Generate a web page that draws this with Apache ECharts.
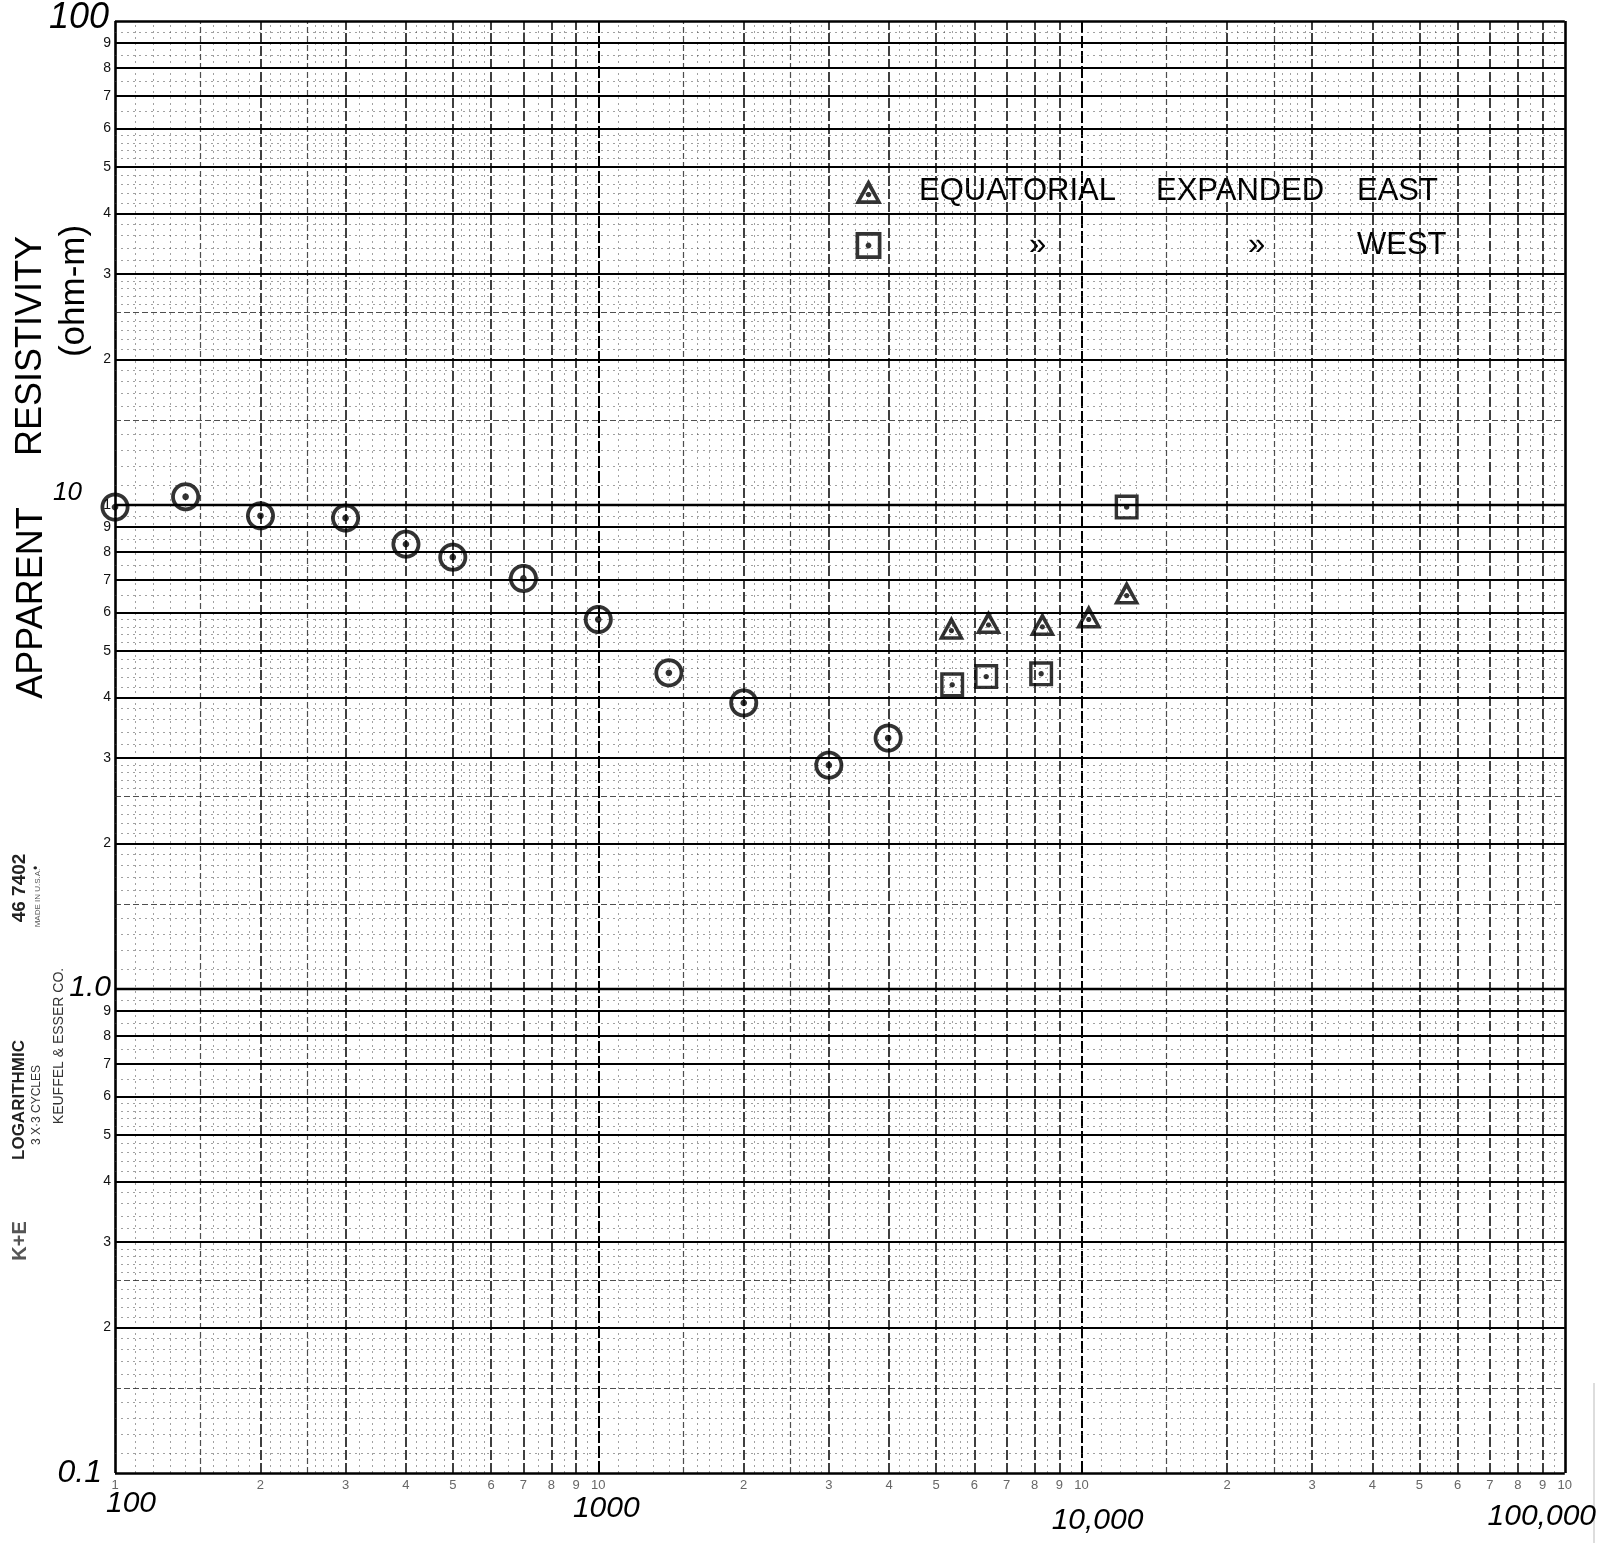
<!DOCTYPE html>
<html>
<head>
<meta charset="utf-8">
<script src="https://cdn.jsdelivr.net/npm/echarts/dist/echarts.min.js"></script>
<style>
html,body{margin:0;padding:0;background:#fff;}
#c{width:1599px;height:1543px;}
</style>
</head>
<body>
<div id="c"></div>
<script>
// ---------------- DATA ----------------
const wennerSpacing = [100, 140, 200, 300, 400, 500, 700, 1000, 1400, 2000, 3000, 3980];
const wennerRho     = [9.9, 10.4, 9.5, 9.4, 8.3, 7.8, 7.05, 5.8, 4.5, 3.9, 2.9, 3.3];
const eastSpacing   = [5380, 6420, 8300, 10350, 12400];
const eastRho       = [5.5, 5.65, 5.6, 5.8, 6.5];
const westSpacing   = [5400, 6350, 8250, 12400];
const westRho       = [4.25, 4.42, 4.48, 9.9];

const xDecadeLabels = ['100', '1000', '10,000', '100,000'];
const yDecadeLabels = ['0.1', '1.0', '10', '100'];
const digitLabels   = ['2', '3', '4', '5', '6', '7', '8', '9'];
const xDecadeDigits = ['1', '10', '10', '10'];
const yDecadeDigits = ['', '', '1', ''];
const legendEast    = ['EQUATORIAL', 'EXPANDED', 'EAST'];
const legendWest    = ['\u00bb', '\u00bb', 'WEST'];

// graph-paper rulings (mantissas inside one decade)
const minorMant = [1.1,1.2,1.3,1.4,1.6,1.7,1.8,1.9,2.1,2.2,2.3,2.4,2.6,2.7,2.8,2.9,
                   3.2,3.4,3.6,3.8,4.2,4.4,4.6,4.8,5.2,5.4,5.6,5.8,6.5,7.5,8.5,9.5];
const medMant = [1.5, 2.5];

// ---------------- STYLES ----------------
const HAND = '"Liberation Sans", "DejaVu Sans", sans-serif';
const minorStyle = {color: '#444', width: 1, type: [2, 4], opacity: 0.5};
const medStyle   = {color: '#222', width: 1.2, type: [6, 3], opacity: 0.8};
const majorH     = {color: '#000', width: 2, type: 'solid'};
const majorV     = {color: '#111', width: 1.6, type: [10, 3]};
const decadeH    = {color: '#000', width: 2.4, type: 'solid'};
const decadeV    = {color: '#000', width: 2, type: [12, 3]};
const borderStyle= {color: '#000', width: 2.6, type: 'solid'};

function clean(v) { return parseFloat(v.toPrecision(8)); }

function paperLines(key, exps, decadeDigits, vertical) {
  const out = [];
  const lab = (txt) => ({
    show: !!txt, position: 'start', formatter: txt || '',
    distance: vertical ? 6 : 4, fontSize: vertical ? 13 : 14,
    fontFamily: '"Liberation Sans", Arial, sans-serif',
    color: vertical ? '#666' : '#111'
  });
  exps.forEach(e => {
    const b = Math.pow(10, e);
    minorMant.forEach(m => out.push({[key]: clean(m * b), lineStyle: minorStyle, label: {show: false}}));
    medMant.forEach(m => out.push({[key]: clean(m * b), lineStyle: medStyle, label: {show: false}}));
    digitLabels.forEach((t, i) => out.push({[key]: clean((i + 2) * b), lineStyle: vertical ? majorV : majorH, label: lab(t)}));
  });
  const decs = exps.concat([exps[exps.length - 1] + 1]);
  decs.forEach((e, i) => {
    const border = (i === 0 || i === decs.length - 1);
    out.push({[key]: clean(Math.pow(10, e)),
              lineStyle: border ? borderStyle : (vertical ? decadeV : decadeH),
              label: lab(decadeDigits[i])});
  });
  return out;
}

// ---------------- SYMBOLS (ring + centre dot) ----------------
function polyAt(cx, cy, r, cw, n) {
  n = n || 48;
  let s = '';
  for (let i = 0; i < n; i++) {
    const a = (cw ? 1 : -1) * 2 * Math.PI * i / n;
    const x = (cx + r * Math.sin(a)).toFixed(2), y = (cy - r * Math.cos(a)).toFixed(2);
    s += (i ? 'L' : 'M') + x + ',' + y + ' ';
  }
  return s + 'Z ';
}
const circleSym = 'path://' + polyAt(0, 0, 14.5, true) + polyAt(0, 0, 10.7, false) + polyAt(0, 0, 3.3, true, 20);
const triSym = 'path://M0,-13.5 L13,10.5 L-13,10.5 Z M0,-5.6 L-7.2,7 L7.2,7 Z ' + polyAt(0, 1.5, 2.6, true, 16);
const rectSym = 'path://M-12,-12.5 L12,-12.5 L12,12.5 L-12,12.5 Z M-8.6,-9.1 L-8.6,9.1 L8.6,9.1 L8.6,-9.1 Z ' + polyAt(0, 0, 2.7, true, 16);

const toPts = (xs, ys) => xs.map((x, i) => [x, ys[i]]);

// ---------------- CHART ----------------
const chart = echarts.init(document.getElementById('c'), null, {renderer: 'canvas'});

const xRich = {
  x0: {fontSize: 30, fontFamily: HAND, fontStyle: 'italic', color: '#000', padding: [0, 0, 0, 32]},
  x1: {fontSize: 30, fontFamily: HAND, fontStyle: 'italic', color: '#000', padding: [5, 0, 0, 16]},
  x2: {fontSize: 30, fontFamily: HAND, fontStyle: 'italic', color: '#000', padding: [17, 0, 0, 32]},
  x3: {fontSize: 30, fontFamily: HAND, fontStyle: 'italic', color: '#000', padding: [13, 46, 0, 0]}
};
const yRich = {
  y0: {fontSize: 32, fontFamily: HAND, fontStyle: 'italic', color: '#000', padding: [0, 9, 0, 0]},
  y1: {fontSize: 30, fontFamily: HAND, fontStyle: 'italic', color: '#000', padding: [0, 0, 2, 0]},
  y2: {fontSize: 26, fontFamily: HAND, fontStyle: 'italic', color: '#000', padding: [0, 29, 24, 0]},
  y3: {fontSize: 36, fontFamily: HAND, fontStyle: 'italic', color: '#000', padding: [0, 2, 6, 0]}
};

const legRich = {
  s:  {width: 32, fontSize: 31, fontFamily: HAND},
  a:  {width: 237, fontSize: 31, fontFamily: HAND, color: '#000'},
  b:  {width: 201, fontSize: 31, fontFamily: HAND, color: '#000'},
  c:  {fontSize: 31, fontFamily: HAND, color: '#000'},
  da: {width: 237, align: 'center', fontSize: 31, fontFamily: HAND, color: '#000'},
  db: {width: 201, align: 'center', fontSize: 31, fontFamily: HAND, color: '#000'}
};

const option = {
  animation: false,
  backgroundColor: '#ffffff',
  grid: {left: 115, right: 23, top: 21, bottom: 70, containLabel: false},
  xAxis: {
    type: 'log', logBase: 10, min: 100, max: 100000,
    axisLine: {show: false}, axisTick: {show: false}, splitLine: {show: false},
    axisLabel: {
      margin: 16,
      formatter: v => { const i = Math.round(Math.log10(v)) - 2; return '{x' + i + '|' + xDecadeLabels[i] + '}'; },
      rich: xRich
    }
  },
  yAxis: {
    type: 'log', logBase: 10, min: 0.1, max: 100,
    axisLine: {show: false}, axisTick: {show: false}, splitLine: {show: false},
    axisLabel: {
      margin: 4,
      formatter: v => { const i = Math.round(Math.log10(v)) + 1; return '{y' + i + '|' + yDecadeLabels[i] + '}'; },
      rich: yRich
    }
  },
  legend: {
    left: 855, top: 176, orient: 'vertical', padding: 0,
    itemWidth: 27, itemHeight: 27, itemGap: 23,
    selectedMode: false,
    data: ['east', 'west'],
    formatter: name => name === 'east'
      ? '{s| }{a|' + legendEast[0] + '}{b|' + legendEast[1] + '}{c|' + legendEast[2] + '}'
      : '{s| }{da|' + legendWest[0] + '}{db|' + legendWest[1] + '}{c|' + legendWest[2] + '}',
    textStyle: {fontSize: 31, fontFamily: HAND, color: '#000', lineHeight: 30, rich: legRich}
  },
  series: [
    {
      name: 'paper', type: 'scatter', data: [], z: 1, silent: true,
      markLine: {
        silent: true, symbol: ['none', 'none'], animation: false,
        label: {show: false},
        emphasis: {disabled: true},
        data: paperLines('xAxis', [2, 3, 4], xDecadeDigits, true)
              .concat(paperLines('yAxis', [-1, 0, 1], yDecadeDigits, false))
      }
    },
    {
      name: 'wenner', type: 'scatter', z: 5,
      data: toPts(wennerSpacing, wennerRho),
      symbol: circleSym, symbolSize: [29, 29],
      itemStyle: {color: '#000'}
    },
    {
      name: 'east', type: 'scatter', z: 5,
      data: toPts(eastSpacing, eastRho),
      symbol: triSym, symbolSize: [26, 24], symbolOffset: [0, -3],
      itemStyle: {color: '#000'}
    },
    {
      name: 'west', type: 'scatter', z: 5,
      data: toPts(westSpacing, westRho),
      symbol: rectSym, symbolSize: [24, 25],
      itemStyle: {color: '#000'}
    }
  ],
  graphic: [
    {type: 'text', x: 32, y: 603, rotation: Math.PI / 2,
     style: {text: 'APPARENT', font: '36px ' + HAND, fill: '#000', align: 'center', verticalAlign: 'middle', textAlign: 'center', textVerticalAlign: 'middle'}},
    {type: 'text', x: 31, y: 346, rotation: Math.PI / 2,
     style: {text: 'RESISTIVITY', font: '36px ' + HAND, fill: '#000', align: 'center', verticalAlign: 'middle', textAlign: 'center', textVerticalAlign: 'middle'}},
    {type: 'text', x: 74, y: 291, rotation: Math.PI / 2,
     style: {text: '(ohm-m)', font: '35px ' + HAND, fill: '#000', align: 'center', verticalAlign: 'middle', textAlign: 'center', textVerticalAlign: 'middle'}},
    {type: 'text', x: 20, y: 888, rotation: Math.PI / 2,
     style: {text: '46 7402', font: 'bold 19px "Liberation Sans", Arial', fill: '#222', align: 'center', verticalAlign: 'middle', textAlign: 'center', textVerticalAlign: 'middle'}},
    {type: 'text', x: 38, y: 898, rotation: Math.PI / 2,
     style: {text: 'MADE IN U.S.A.', font: '8px "Liberation Sans", Arial', fill: '#555', align: 'center', verticalAlign: 'middle', textAlign: 'center', textVerticalAlign: 'middle'}},
    {type: 'text', x: 37, y: 868, rotation: Math.PI / 2,
     style: {text: '\u2022', font: '12px "Liberation Sans", Arial', fill: '#222', align: 'center', verticalAlign: 'middle', textAlign: 'center', textVerticalAlign: 'middle'}},
    {type: 'text', x: 19, y: 1100, rotation: Math.PI / 2,
     style: {text: 'LOGARITHMIC', font: 'bold 17px "Liberation Sans", Arial', fill: '#222', align: 'center', verticalAlign: 'middle', textAlign: 'center', textVerticalAlign: 'middle'}},
    {type: 'text', x: 37, y: 1105, rotation: Math.PI / 2,
     style: {text: '3 X\u00b73 CYCLES', font: '12px "Liberation Sans", Arial', fill: '#333', align: 'center', verticalAlign: 'middle', textAlign: 'center', textVerticalAlign: 'middle'}},
    {type: 'text', x: 59, y: 1046, rotation: Math.PI / 2,
     style: {text: 'KEUFFEL & ESSER CO.', font: '14px "Liberation Sans", Arial', fill: '#333', align: 'center', verticalAlign: 'middle', textAlign: 'center', textVerticalAlign: 'middle'}},
    {type: 'text', x: 20, y: 1241, rotation: Math.PI / 2,
     style: {text: 'K+E', font: 'bold 20px "Liberation Sans", Arial', fill: '#555', align: 'center', verticalAlign: 'middle', textAlign: 'center', textVerticalAlign: 'middle'}},
    {type: 'line', shape: {x1: 1594, y1: 1383, x2: 1594, y2: 1543}, style: {stroke: '#bbb', lineWidth: 1}}
  ]
};

chart.setOption(option);
</script>
</body>
</html>
